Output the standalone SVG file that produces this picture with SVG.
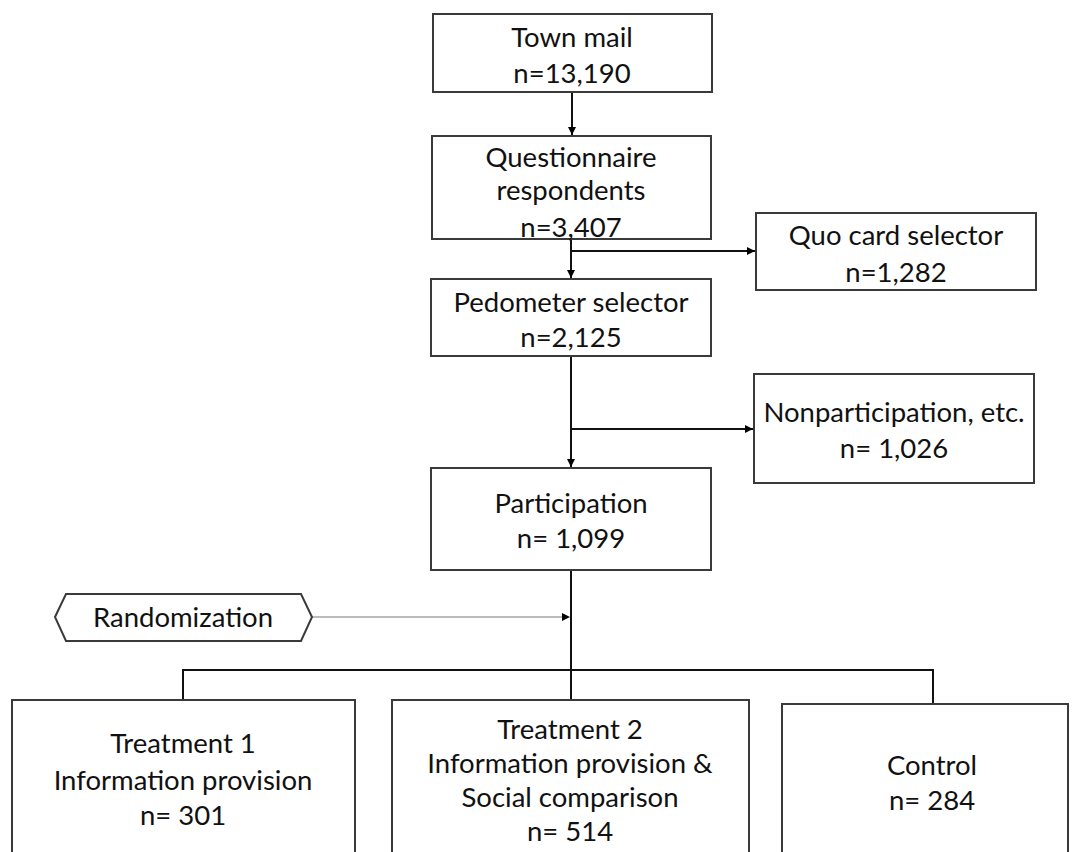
<svg xmlns="http://www.w3.org/2000/svg" width="1075" height="852" viewBox="0 0 1075 852">
<defs>
<marker id="ah" viewBox="0 0 10 10" refX="10" refY="5" markerWidth="8" markerHeight="8" markerUnits="userSpaceOnUse" orient="auto">
<path d="M0,0 L10,5 L0,10 z" fill="#000"/>
</marker>
</defs>
<style>
.box{fill:#fff;stroke:#3a3a3a;stroke-width:2}
.t{font-family:Lato,"Open Sans","Liberation Sans",sans-serif;font-size:27.5px;fill:#111;text-anchor:middle}
.c{fill:none;stroke:#111;stroke-width:2}
.g{fill:none;stroke:#a6a6a6;stroke-width:1.5}
</style>
<rect width="1075" height="852" fill="#fff"/>
<g id="connectors">
<line class="c" x1="572" y1="92" x2="572" y2="135" marker-end="url(#ah)"/>
<line class="c" x1="571" y1="239" x2="571" y2="278" marker-end="url(#ah)"/>
<line class="c" x1="571" y1="251" x2="755" y2="251" marker-end="url(#ah)"/>
<line class="c" x1="571" y1="356" x2="571" y2="467" marker-end="url(#ah)"/>
<line class="c" x1="571" y1="429" x2="753" y2="429" marker-end="url(#ah)"/>
<line class="c" x1="571" y1="570" x2="571" y2="700"/>
<line class="g" x1="312" y1="617" x2="565" y2="617"/>
<path d="M562,613 L570,617 L562,621 z" fill="#000"/>
<polyline class="c" points="183,700 183,670 933,670 933,704"/>
</g>
<g id="town-mail">
<rect class="box" x="433" y="14" width="279" height="78"/>
<text class="t" x="572" y="47">Town mail</text>
<text class="t" x="572" y="83">n=13,190</text>
</g>
<g id="questionnaire">
<rect class="box" x="432" y="136" width="279" height="103"/>
<text class="t" x="571" y="167">Questionnaire</text>
<text class="t" x="571" y="200">respondents</text>
<text class="t" x="571" y="237">n=3,407</text>
</g>
<g id="quo-card">
<rect class="box" x="756" y="213" width="280" height="77"/>
<text class="t" x="896" y="245">Quo card selector</text>
<text class="t" x="896" y="282">n=1,282</text>
</g>
<g id="pedometer">
<rect class="box" x="431" y="279" width="280" height="77"/>
<text class="t" x="571" y="312">Pedometer selector</text>
<text class="t" x="571" y="347">n=2,125</text>
</g>
<g id="nonparticipation">
<rect class="box" x="754" y="374" width="280" height="109"/>
<text class="t" x="894" y="422">Nonparticipation, etc.</text>
<text class="t" x="894" y="458">n= 1,026</text>
</g>
<g id="participation">
<rect class="box" x="431" y="468" width="280" height="102"/>
<text class="t" x="571" y="513">Participation</text>
<text class="t" x="571" y="548">n= 1,099</text>
</g>
<g id="randomization">
<polygon class="box" points="55,617 66,594 301,594 312,617 301,641 66,641"/>
<text class="t" x="183" y="627">Randomization</text>
</g>
<g id="treatment1">
<rect class="box" x="12" y="700" width="343" height="160"/>
<text class="t" x="183" y="753">Treatment 1</text>
<text class="t" x="183" y="790">Information provision</text>
<text class="t" x="183" y="825">n= 301</text>
</g>
<g id="treatment2">
<rect class="box" x="392" y="700" width="357" height="160"/>
<text class="t" x="570" y="739">Treatment 2</text>
<text class="t" x="570" y="773">Information provision &amp;</text>
<text class="t" x="570" y="807">Social comparison</text>
<text class="t" x="570" y="841">n= 514</text>
</g>
<g id="control">
<rect class="box" x="782" y="704" width="286" height="160"/>
<text class="t" x="932" y="775">Control</text>
<text class="t" x="932" y="810">n= 284</text>
</g>
</svg>
